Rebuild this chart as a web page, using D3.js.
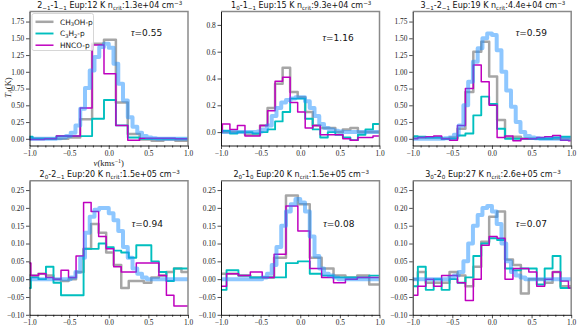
<!DOCTYPE html>
<html>
<head>
<meta charset="utf-8">
<script src="https://cdn.jsdelivr.net/npm/d3@7"></script>
<style>
  body { margin: 0; background: #fff; }
  svg { display: block; }
</style>
</head>
<body>
<div id="chart"></div>
<script>
// ---- data ----

// panel titles (transition, Eup, critical density)
const titles = [
  "2_{−1}-1_{−1} Eup:12 K n_{crit}:1.3e+04 cm^{−3}",
  "1_{0}-1_{−1} Eup:15 K n_{crit}:9.3e+04 cm^{−3}",
  "3_{−1}-2_{−1} Eup:19 K n_{crit}:4.4e+04 cm^{−3}",
  "2_{0}-2_{−1} Eup:20 K n_{crit}:1.5e+05 cm^{−3}",
  "2_{0}-1_{0} Eup:20 K n_{crit}:1.5e+05 cm^{−3}",
  "3_{0}-2_{0} Eup:27 K n_{crit}:2.6e+05 cm^{−3}"
]
const tauValues = ["0.55", "1.16", "0.59", "0.94", "0.08", "0.07"]
const seriesNames = ["CH_{3}OH-p", "C_{3}H_{2}-p", "HNCO-p"]

// channel velocities (km/s)
const velP1 = [-1.035, -0.885, -0.735, -0.585, -0.435, -0.285, -0.135, 0.015, 0.165, 0.315, 0.465, 0.615, 0.765, 0.915, 1.065]
const velP2 = [-1.03, -0.935, -0.84, -0.745, -0.65, -0.555, -0.46, -0.365, -0.27, -0.175, -0.08, 0.015, 0.11, 0.205, 0.3, 0.395, 0.49, 0.585, 0.68, 0.775, 0.87, 0.965, 1.06]
const velP3 = [-0.985, -0.885, -0.785, -0.685, -0.585, -0.485, -0.385, -0.285, -0.185, -0.085, 0.015, 0.115, 0.215, 0.315, 0.415, 0.515, 0.615, 0.715, 0.815, 0.915, 1.015]
const velP5 = [-1.005, -0.855, -0.705, -0.555, -0.405, -0.255, -0.105, 0.045, 0.195, 0.345, 0.495, 0.645, 0.795, 0.945, 1.095]
const velModel = [-1.05, -0.99, -0.93, -0.87, -0.81, -0.75, -0.69, -0.63, -0.57, -0.51, -0.45, -0.39, -0.33, -0.27, -0.21, -0.15, -0.09, -0.03,
  0.03, 0.09, 0.15, 0.21, 0.27, 0.33, 0.39, 0.45, 0.51, 0.57, 0.63, 0.69, 0.75, 0.81, 0.87, 0.93, 0.99, 1.05]

// T_A (K) per panel
const ch3ohP1 = [0.0, 0.0, 0.0, 0.0, 0.02, 0.29, 1.42, 1.48, 0.54, 0.07, -0.01, -0.03, -0.01, -0.03, -0.03]
const c3h2P1 = [0.03, 0.0, 0.0, 0.04, 0.04, 0.04, 0.3, 0.58, 0.2, 0.02, 0.0, 0.0, 0.0, 0.0, 0.0]
const hncoP1 = [-0.01, -0.01, 0.0, 0.04, 0.04, 0.46, 1.4, 0.97, 0.2, -0.02, 0.01, 0.01, 0.01, 0.0, 0.0]
const modelP1 = [0, 0, 0, 0, 0, 0, 0, 0.01, 0.02, 0.04, 0.09, 0.2, 0.45, 0.76, 1.02, 1.22, 1.37, 1.42, 1.36, 1.12, 0.82, 0.57, 0.32, 0.18, 0.09, 0.04, 0.02, 0.01, 0, 0, 0, 0, 0, 0, 0, 0]

const ch3ohP2 = [0.0, 0.0, 0.0, 0.0, -0.02, -0.02, 0.05, 0.18, 0.36, 0.48, 0.3, 0.26, 0.15, 0.05, 0.03, 0.03, 0.0, 0.02, 0.03, 0.0, 0.0, 0.0, 0.0]
const c3h2P2 = [0.01, 0.01, -0.01, 0.0, 0.0, -0.01, 0.0, 0.02, 0.08, 0.15, 0.25, 0.25, 0.1, 0.02, -0.04, 0.0, -0.02, -0.04, -0.06, -0.02, 0.02, 0.06, 0.06]
const hncoP2 = [0.0, 0.06, 0.02, 0.05, -0.03, -0.03, 0.05, 0.16, 0.38, 0.41, 0.22, 0.15, 0.03, 0.05, -0.02, -0.02, -0.02, -0.05, -0.06, -0.04, -0.04, -0.03, -0.03]
const modelP2 = [0, 0, 0, 0, 0, 0, 0, 0, 0, 0.005, 0.02, 0.05, 0.12, 0.18, 0.22, 0.24, 0.25, 0.26, 0.26, 0.23, 0.18, 0.12, 0.06, 0.03, 0.02, 0.01, 0.005, 0, 0, 0, 0, 0, 0, 0, 0, 0]

const ch3ohP3 = [0.02, 0.02, 0.02, 0.02, 0.0, 0.02, 0.15, 0.7, 1.3, 1.45, 0.93, 0.28, 0.02, 0.03, 0.0, 0.0, 0.0, 0.0, 0.0, 0.0, 0.0]
const c3h2P3 = [0.04, 0.03, 0.02, 0.02, 0.0, 0.0, 0.05, 0.08, 0.35, 0.63, 0.52, 0.15, 0.0, 0.0, 0.0, 0.0, 0.0, 0.0, 0.02, 0.03, 0.03]
const hncoP3 = [0.0, 0.02, 0.03, 0.04, 0.0, -0.02, 0.2, 0.75, 1.1, 0.85, 0.5, 0.02, 0.04, -0.03, 0.0, 0.0, 0.02, 0.03, 0.05, -0.02, -0.03]
const modelP3 = [0, 0, 0, 0, 0, 0, 0, 0, 0.01, 0.02, 0.06, 0.2, 0.5, 0.85, 1.15, 1.35, 1.5, 1.57, 1.55, 1.32, 1.0, 0.72, 0.48, 0.25, 0.1, 0.04, 0.02, 0.01, 0, 0, 0, 0, 0, 0, 0, 0]

const ch3ohP4 = [0.01, 0.01, 0.015, 0.01, 0.0, -0.005, 0.0, 0.02, 0.085, 0.155, 0.13, 0.075, 0.04, -0.025, -0.005, -0.005, -0.01, 0.005, 0.01, 0.02, 0.03, 0.02, 0.02]
const c3h2P4 = [-0.025, 0.005, 0.0, 0.035, -0.01, -0.045, -0.045, -0.045, 0.085, 0.085, 0.1, 0.09, 0.08, 0.075, 0.06, 0.095, 0.095, 0.05, 0.02, -0.005, 0.03, 0.03, 0.03]
const hncoP4 = [0.045, 0.01, 0.015, 0.005, 0.0, 0.025, 0.005, 0.065, 0.215, 0.19, 0.12, 0.085, 0.035, 0.02, 0.02, 0.045, 0.045, 0.045, 0.01, -0.045, -0.075, -0.075, -0.075]
const modelP4 = [0, 0, 0, 0, 0, 0, 0, 0, 0, 0, 0.005, 0.02, 0.06, 0.13, 0.175, 0.195, 0.2, 0.2, 0.185, 0.165, 0.135, 0.09, 0.06, 0.03, 0.015, 0.005, 0, 0, 0, 0, 0, 0, 0, 0, 0, 0]

const ch3ohP5 = [0.015, 0.015, 0.01, 0.005, 0.005, 0.06, 0.235, 0.21, 0.06, 0.03, 0.01, 0.005, 0.01, -0.015, -0.015]
const c3h2P5 = [-0.03, 0.025, 0.01, 0.005, 0.005, 0.005, 0.045, 0.05, 0.015, 0.01, 0.005, 0.005, 0.005, 0.01, 0.01]
const hncoP5 = [-0.02, 0.015, 0.01, 0.02, 0.005, 0.07, 0.205, 0.135, 0.03, 0.005, -0.01, 0.0, 0.005, 0.005, 0.005]
const modelP5 = [0, 0, 0, 0, 0, 0, 0, 0, 0, 0, 0.005, 0.015, 0.04, 0.09, 0.15, 0.19, 0.21, 0.225, 0.215, 0.19, 0.12, 0.065, 0.03, 0.015, 0.01, 0.005, 0, 0, 0, 0, 0, 0, 0, 0, 0, 0]

const ch3ohP6 = [0.0, 0.02, -0.01, -0.01, -0.01, 0.02, 0.01, -0.02, 0.035, 0.105, 0.175, 0.19, 0.055, 0.04, -0.04, 0.0, 0.0, -0.01, 0.02, -0.02, -0.02]
const c3h2P6 = [-0.02, 0.035, -0.03, 0.0, -0.03, 0.0, -0.01, 0.005, 0.065, 0.1, 0.115, 0.11, 0.03, 0.025, 0.03, 0.03, -0.015, 0.03, 0.065, -0.025, -0.025]
const hncoP6 = [-0.045, -0.02, 0.0, -0.02, 0.01, 0.01, -0.01, -0.06, 0.0, 0.095, 0.12, 0.115, 0.0, 0.03, 0.03, 0.02, -0.02, 0.0, 0.02, -0.005, -0.025]
const modelP6 = [0, 0, 0, 0, 0, 0, 0, 0, 0, 0.005, 0.01, 0.02, 0.05, 0.1, 0.15, 0.18, 0.2, 0.205, 0.19, 0.155, 0.1, 0.05, 0.02, 0.01, 0.005, 0, 0, 0, 0, 0, 0, 0, 0, 0, 0, 0]

// axis ranges and ticks
const xDomain = [-1, 1]
const xTicks = [-1, -0.5, 0, 0.5, 1]
const xMinorTicks = [-0.9, -0.8, -0.7, -0.6, -0.4, -0.3, -0.2, -0.1, 0.1, 0.2, 0.3, 0.4, 0.6, 0.7, 0.8, 0.9]
const yDomains = [[-0.1, 1.9], [-0.1, 0.9], [-0.1, 1.9], [-0.1, 0.276], [-0.1, 0.276], [-0.1, 0.276]]
const yTicksBig = [0, 0.25, 0.5, 0.75, 1.0, 1.25, 1.5, 1.75]
const yTicksMid = [0, 0.2, 0.4, 0.6, 0.8]
const yTicksSmall = [-0.1, -0.05, 0, 0.05, 0.1, 0.15, 0.2, 0.25]


// ---- layout ----

const W = 578, H = 330
const colLeft = [29.5, 221, 412.7]
const rowTop = [11.5, 180.8]
const plotW = 158.5, plotH = 134
const tauPos = [[0.64, 0.185], [0.64, 0.22], [0.65, 0.185], [0.645, 0.345], [0.645, 0.345], [0.65, 0.345]]

const styles = [
  { color: "#808080", width: 2.5, opacity: 0.7 },
  { color: "#00bfbf", width: 1.9, opacity: 1 },
  { color: "#bf00bf", width: 1.5, opacity: 1 }
]
const modelStyle = { color: "#1e90ff", width: 4, opacity: 0.5 }

const SANS = "DejaVu Sans"
const SERIF = "Liberation Serif"

const panels = [
  { vel: velP1, series: [ch3ohP1, c3h2P1, hncoP1], model: modelP1, yTicks: yTicksBig, fmt: ".2f" },
  { vel: velP2, series: [ch3ohP2, c3h2P2, hncoP2], model: modelP2, yTicks: yTicksMid, fmt: ".1f" },
  { vel: velP3, series: [ch3ohP3, c3h2P3, hncoP3], model: modelP3, yTicks: yTicksBig, fmt: ".2f" },
  { vel: velP2, series: [ch3ohP4, c3h2P4, hncoP4], model: modelP4, yTicks: yTicksSmall, fmt: ".2f" },
  { vel: velP5, series: [ch3ohP5, c3h2P5, hncoP5], model: modelP5, yTicks: yTicksSmall, fmt: ".2f" },
  { vel: velP3, series: [ch3ohP6, c3h2P6, hncoP6], model: modelP6, yTicks: yTicksSmall, fmt: ".2f" }
]

// text with _{..} and ^{..} pieces
function addRich(text, str, size) {
  var re = /([_^])\{([^}]*)\}/g, last = 0, m, parts = []
  while ((m = re.exec(str)) !== null) {
    if (m.index > last) parts.push({ t: str.slice(last, m.index), k: 0 })
    parts.push({ t: m[2], k: m[1] === "_" ? 1 : -1 })
    last = re.lastIndex
  }
  if (last < str.length) parts.push({ t: str.slice(last), k: 0 })
  var cur = 0
  parts.forEach(function (p) {
    var off = p.k === 1 ? 0.22 * size : p.k === -1 ? -0.38 * size : 0
    var ts = text.append("tspan").text(p.t)
    if (off - cur !== 0) ts.attr("dy", off - cur)
    if (p.k) ts.attr("font-size", size * 0.7)
    cur = off
  })
  return text
}

const svg = d3.select("#chart").append("svg")
  .attr("width", W)
  .attr("height", H)
  .attr("viewBox", `0 0 ${W} ${H}`)

svg.append("rect").attr("width", W).attr("height", H).attr("fill", "#fff")

const x = d3.scaleLinear().domain(xDomain).range([0, plotW])

panels.forEach(function (p, i) {
  var col = i % 3, row = Math.floor(i / 3)
  var g = svg.append("g").attr("transform", `translate(${colLeft[col]},${rowTop[row]})`)
  var y = d3.scaleLinear().domain(yDomains[i]).range([plotH, 0])

  g.append("clipPath").attr("id", "clip" + i)
    .append("rect").attr("width", plotW).attr("height", plotH)

  var line = d3.line()
    .x(d => x(d[0]))
    .y(d => y(d[1]))
    .curve(d3.curveStep)

  var lines = g.append("g").attr("clip-path", `url(#clip${i})`)

  p.series.forEach(function (vals, k) {
    lines.append("path")
      .datum(p.vel.map((v, j) => [v, vals[j]]))
      .attr("d", line)
      .attr("fill", "none")
      .attr("stroke", styles[k].color)
      .attr("stroke-opacity", styles[k].opacity)
      .attr("stroke-width", styles[k].width)
      .attr("stroke-linejoin", "round")
  })

  lines.append("path")
    .datum(velModel.map((v, j) => [v, p.model[j]]))
    .attr("d", line)
    .attr("fill", "none")
    .attr("stroke", modelStyle.color)
    .attr("stroke-opacity", modelStyle.opacity)
    .attr("stroke-width", modelStyle.width)
    .attr("stroke-linejoin", "round")

  // top / right frame
  g.append("path")
    .attr("d", `M0,0H${plotW}V${plotH}`)
    .attr("fill", "none")
    .attr("stroke", "#8a8a8a")
    .attr("stroke-width", 1.5)

  // axes
  var xa = g.append("g").attr("transform", `translate(0,${plotH})`)
    .call(d3.axisBottom(x).tickValues(xTicks).tickFormat(d3.format(".1f"))
      .tickSize(3.5).tickPadding(1.8).tickSizeOuter(0))
  var xm = g.append("g").attr("transform", `translate(0,${plotH})`)
    .call(d3.axisBottom(x).tickValues(xMinorTicks).tickFormat("").tickSize(2).tickSizeOuter(0))
  xm.select(".domain").remove()

  var ya = g.append("g")
    .call(d3.axisLeft(y).tickValues(p.yTicks).tickFormat(d3.format(p.fmt))
      .tickSize(3.5).tickPadding(1.8).tickSizeOuter(0))

  ;[xa, xm, ya].forEach(function (a) {
    a.selectAll(".domain").attr("stroke", "#000").attr("stroke-width", 0.9)
    a.selectAll(".tick line").attr("stroke", "#000").attr("stroke-width", 0.7)
    a.selectAll("text")
      .attr("font-family", SERIF)
      .attr("font-size", 7.4)
      .attr("fill", "#222")
  })

  // title, centred on the panel from its measured width
  var t = g.append("text")
    .attr("y", -3.6)
    .attr("font-family", SANS)
    .attr("font-size", 8)
    .attr("fill", "#111")
  addRich(t, titles[i], 8)
  var tw = t.node().getComputedTextLength()
  t.attr("x", plotW / 2 - tw / 2 + 1)

  // optical depth
  var tau = g.append("text")
    .attr("x", tauPos[i][0] * plotW)
    .attr("y", tauPos[i][1] * plotH)
    .attr("font-size", 9)
    .attr("fill", "#111")
  tau.append("tspan").attr("font-family", SERIF).attr("font-style", "italic").attr("font-size", 10).text("τ")
  tau.append("tspan").attr("font-family", SANS).text("=" + tauValues[i])
})

// axis labels on the first panel
var yl = svg.append("text")
  .attr("transform", `translate(10.5,${rowTop[0] + 76}) rotate(-90)`)
  .attr("text-anchor", "middle")
  .attr("font-family", SERIF)
  .attr("font-size", 8.6)
  .attr("fill", "#222")
yl.append("tspan").attr("font-style", "italic").text("T")
yl.append("tspan").attr("font-style", "italic").attr("font-size", 6).attr("dy", 1.8).text("A")
yl.append("tspan").attr("dy", -1.8).text("(K)")

var xl = svg.append("text")
  .attr("x", colLeft[0] + plotW / 2)
  .attr("y", rowTop[0] + plotH + 20.5)
  .attr("text-anchor", "middle")
  .attr("font-family", SERIF)
  .attr("font-size", 8.6)
  .attr("fill", "#222")
xl.append("tspan").attr("font-style", "italic").text("v")
xl.append("tspan").text("(kms")
xl.append("tspan").attr("font-size", 6).attr("dy", -3.2).text("−1")
xl.append("tspan").attr("dy", 3.2).text(")")

// legend
var lg = svg.append("g").attr("transform", `translate(${colLeft[0] + 2.5},${rowTop[0] + 2})`)
lg.append("rect")
  .attr("width", 61.5).attr("height", 37)
  .attr("rx", 2)
  .attr("fill", "#fff").attr("fill-opacity", 0.8)
  .attr("stroke", "#cccccc").attr("stroke-width", 0.8)
seriesNames.forEach(function (name, k) {
  var yy = 8.3 + k * 11.7
  lg.append("line")
    .attr("x1", 3.5).attr("x2", 21.5)
    .attr("y1", yy).attr("y2", yy)
    .attr("stroke", styles[k].color)
    .attr("stroke-opacity", styles[k].opacity)
    .attr("stroke-width", styles[k].width)
  var tx = lg.append("text")
    .attr("x", 28).attr("y", yy + 2.7)
    .attr("font-family", SANS)
    .attr("font-size", 7.4)
    .attr("fill", "#111")
  addRich(tx, name, 7.4)
})
</script>
</body>
</html>
